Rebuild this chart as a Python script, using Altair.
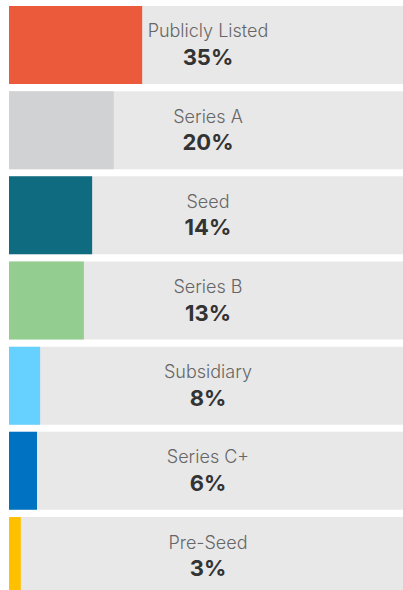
import altair as alt
import pandas as pd

categories = ["Publicly Listed", "Series A", "Seed", "Series B", "Subsidiary", "Series C+", "Pre-Seed"]
pct_labels = ["35%", "20%", "14%", "13%", "8%", "6%", "3%"]
bar_length = [33.8, 26.6, 21.1, 19.0, 7.9, 7.1, 3.0]
colors = ["#EA5A3B", "#D1D2D4", "#0E6B80", "#94CD90", "#66D1FF", "#0072C2", "#FFC000"]
full_value = [100] * len(categories)
mid_value = [50.5] * len(categories)

df = pd.DataFrame({
    "category": categories,
    "label": pct_labels,
    "value": bar_length,
    "full": full_value,
    "mid": mid_value,
    "color": colors,
})

FONT = "Inter"
yscale = alt.Scale(domain=categories, range=[0, 601], paddingInner=0.0845, paddingOuter=0.0704)
xscale = alt.Scale(domain=[0, 100], range=[9, 403], zero=False)
y = alt.Y("category:N", scale=yscale, axis=None, sort=categories)

base = alt.Chart(df)

bg = base.mark_bar(color="#E8E8E8", clip=True).encode(
    x=alt.X("full:Q", scale=xscale, axis=None), x2=alt.datum(0), y=y
)
fg = base.mark_bar(clip=True).encode(
    x=alt.X("value:Q", scale=xscale, axis=None), x2=alt.datum(0), y=y,
    color=alt.Color("color:N", scale=None),
)
name = base.mark_text(font=FONT, fontSize=18, fontWeight=300, color="#666666", baseline="alphabetic",
                      align="center", dy=-7.5, clip=True).encode(
    x=alt.X("mid:Q", scale=xscale, axis=None), y=y, text="category:N"
)
pct = base.mark_text(font=FONT, fontSize=22, fontWeight="bold", color="#333333",
                     baseline="alphabetic", align="center", dy=20, clip=True).encode(
    x=alt.X("mid:Q", scale=xscale, axis=None), y=y, text="label:N"
)

chart = alt.layer(bg, fg, name, pct).properties(
    width=403, height=590, padding=0, autosize=alt.AutoSizeParams(type="none"),
    background="white",
).configure_view(stroke=None)

chart.save("out.html", embed_options={"renderer": "svg", "actions": False})
